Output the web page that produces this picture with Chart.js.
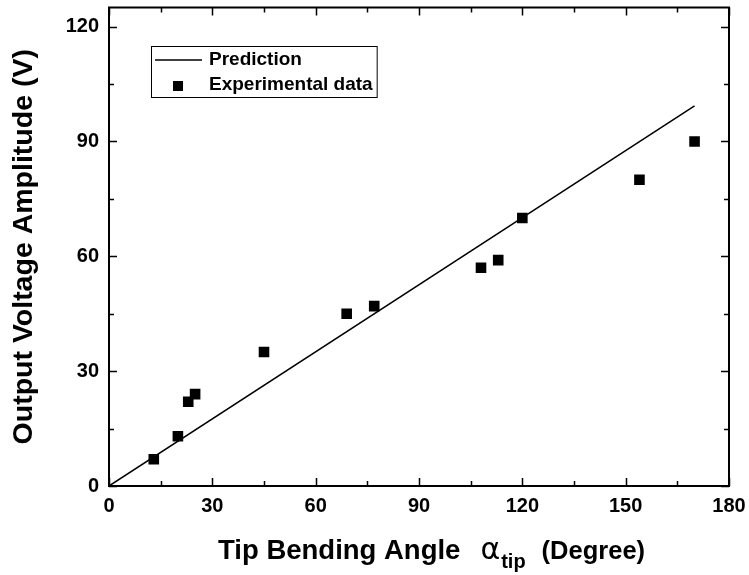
<!DOCTYPE html>
<html>
<head>
<meta charset="utf-8">
<script src="https://cdn.jsdelivr.net/npm/chart.js@4"></script>
<style>
  html, body { margin: 0; padding: 0; background: #fff; }
  #wrap { width: 749px; height: 575px; }
</style>
</head>
<body>
<div id="wrap"><canvas id="chart" width="749" height="575"></canvas></div>
<script>

// data
const angleDeg = [13, 20, 23, 25, 45, 69, 77, 108, 113, 120, 154, 170];
const voltage = [7, 13, 22, 24, 35, 45, 47, 57, 59, 70, 80, 90];

const predAngle = [0, 170];
const predVoltage = [0, 99.3];

const xTicks = [0, 30, 60, 90, 120, 150, 180];
const yTicks = [0, 30, 60, 90, 120];

const FONT = "Arial, 'Liberation Sans', sans-serif";

//
// axes frame with inward major / minor ticks on all four sides
//
const framePlugin = {
    id: "frame",

    afterDraw(chart) {
        const { ctx, chartArea: { left, right, top, bottom }, scales: { x, y } } = chart;

        ctx.save();
        ctx.strokeStyle = "#000";
        ctx.lineWidth = 2;
        ctx.strokeRect(left, top, right - left, bottom - top);

        ctx.lineWidth = 1.5;
        ctx.beginPath();
        for (let v = 0; v <= 180; v += 15) {
            const px = Math.round(x.getPixelForValue(v)) + 0.5;
            const len = v % 30 === 0 ? 8 : 5;
            ctx.moveTo(px, bottom);
            ctx.lineTo(px, bottom - len);
            ctx.moveTo(px, top);
            ctx.lineTo(px, top + len);
        }
        for (let v = 0; v <= 120; v += 15) {
            const py = Math.round(y.getPixelForValue(v)) + 0.5;
            const len = v % 30 === 0 ? 8 : 5;
            ctx.moveTo(left, py);
            ctx.lineTo(left + len, py);
            ctx.moveTo(right, py);
            ctx.lineTo(right - len, py);
        }
        ctx.stroke();
        ctx.restore();
    }
};

//
// axis titles (x title has a greek alpha with subscript)
//
const titlePlugin = {
    id: "axisTitles",

    afterDraw(chart) {
        const { ctx, chartArea: { top, bottom } } = chart;

        ctx.save();
        ctx.fillStyle = "#000";

        // y title
        ctx.translate(24, (top + bottom) / 2);
        ctx.rotate(-Math.PI / 2);
        ctx.font = "bold 28.5px " + FONT;
        ctx.textAlign = "center";
        ctx.textBaseline = "middle";
        ctx.fillText("Output Voltage Amplitude (V)", 0, 0);
        ctx.setTransform(1, 0, 0, 1, 0, 0);

        // x title
        ctx.textAlign = "left";
        ctx.textBaseline = "alphabetic";
        const baseY = 559;
        let cx = 218;

        ctx.font = "bold 27.5px " + FONT;
        const part1 = "Tip Bending Angle";
        ctx.fillText(part1, cx, baseY);
        cx += ctx.measureText(part1).width + 20;

        ctx.font = "30px 'DejaVu Sans', sans-serif";
        ctx.fillText("\u03B1", cx, baseY);
        cx += ctx.measureText("\u03B1").width + 1;

        ctx.font = "bold 20px " + FONT;
        ctx.fillText("tip", cx, baseY + 9);
        cx += ctx.measureText("tip").width + 16;

        ctx.font = "bold 25.5px " + FONT;
        ctx.fillText("(Degree)", cx, baseY);

        ctx.restore();
    }
};

//
// boxed legend in the upper left
//
const legendPlugin = {
    id: "boxLegend",

    afterDraw(chart) {
        const { ctx } = chart;

        ctx.save();
        ctx.font = "bold 19px " + FONT;
        ctx.textBaseline = "middle";
        ctx.fillStyle = "#000";

        const labels = chart.data.datasets.map(d => d.label);
        const textX = 209;
        const textW = Math.max(...labels.map(l => ctx.measureText(l).width));

        const boxL = 151, boxT = 46, boxB = 97;
        const boxR = textX + textW + 4;

        ctx.lineWidth = 1;
        ctx.strokeStyle = "#000";
        ctx.strokeRect(boxL + 0.5, boxT + 0.5, boxR - boxL, boxB - boxT);

        // prediction line sample
        ctx.lineWidth = 1.5;
        ctx.beginPath();
        ctx.moveTo(155, 60);
        ctx.lineTo(202, 60);
        ctx.stroke();
        ctx.fillText(labels[0], textX, 60);

        // experimental marker sample
        ctx.fillRect(173, 81, 10, 10);
        ctx.fillText(labels[1], textX, 85);

        ctx.restore();
    }
};

new Chart(document.getElementById("chart"), {
    type: "scatter",
    data: {
        datasets: [
            {
                type: "line",
                label: "Prediction",
                data: predAngle.map((a, i) => ({ x: a, y: predVoltage[i] })),
                borderColor: "#000",
                borderWidth: 1.5,
                pointRadius: 0,
                fill: false
            },
            {
                label: "Experimental data",
                data: angleDeg.map((a, i) => ({ x: a, y: voltage[i] })),
                pointStyle: "rect",
                pointRadius: 7.5,
                backgroundColor: "#000",
                borderColor: "#000",
                borderWidth: 0
            }
        ]
    },
    options: {
        responsive: false,
        animation: false,
        events: [],
        layout: {
            padding: { top: 7, right: 20, left: 0, bottom: 0 }
        },
        plugins: {
            legend: { display: false },
            tooltip: { enabled: false }
        },
        scales: {
            x: {
                type: "linear",
                min: 0,
                max: 180,
                grid: { display: false, drawTicks: false },
                border: { display: false },
                afterBuildTicks: scale => {
                    scale.ticks = xTicks.map(v => ({ value: v }));
                },
                afterFit: scale => {
                    scale.height = 89;
                    scale.paddingLeft = 0;
                    scale.paddingRight = 0;
                },
                ticks: {
                    color: "#000",
                    padding: 8,
                    font: { family: FONT, size: 20, weight: "bold" }
                }
            },
            y: {
                type: "linear",
                min: 0,
                max: 125,
                grid: { display: false, drawTicks: false },
                border: { display: false },
                afterBuildTicks: scale => {
                    scale.ticks = yTicks.map(v => ({ value: v }));
                },
                afterFit: scale => {
                    scale.width = 109;
                    scale.paddingTop = 0;
                    scale.paddingBottom = 0;
                },
                ticks: {
                    color: "#000",
                    padding: 10,
                    font: { family: FONT, size: 20, weight: "bold" }
                }
            }
        }
    },
    plugins: [framePlugin, titlePlugin, legendPlugin]
});
</script>
</body>
</html>
